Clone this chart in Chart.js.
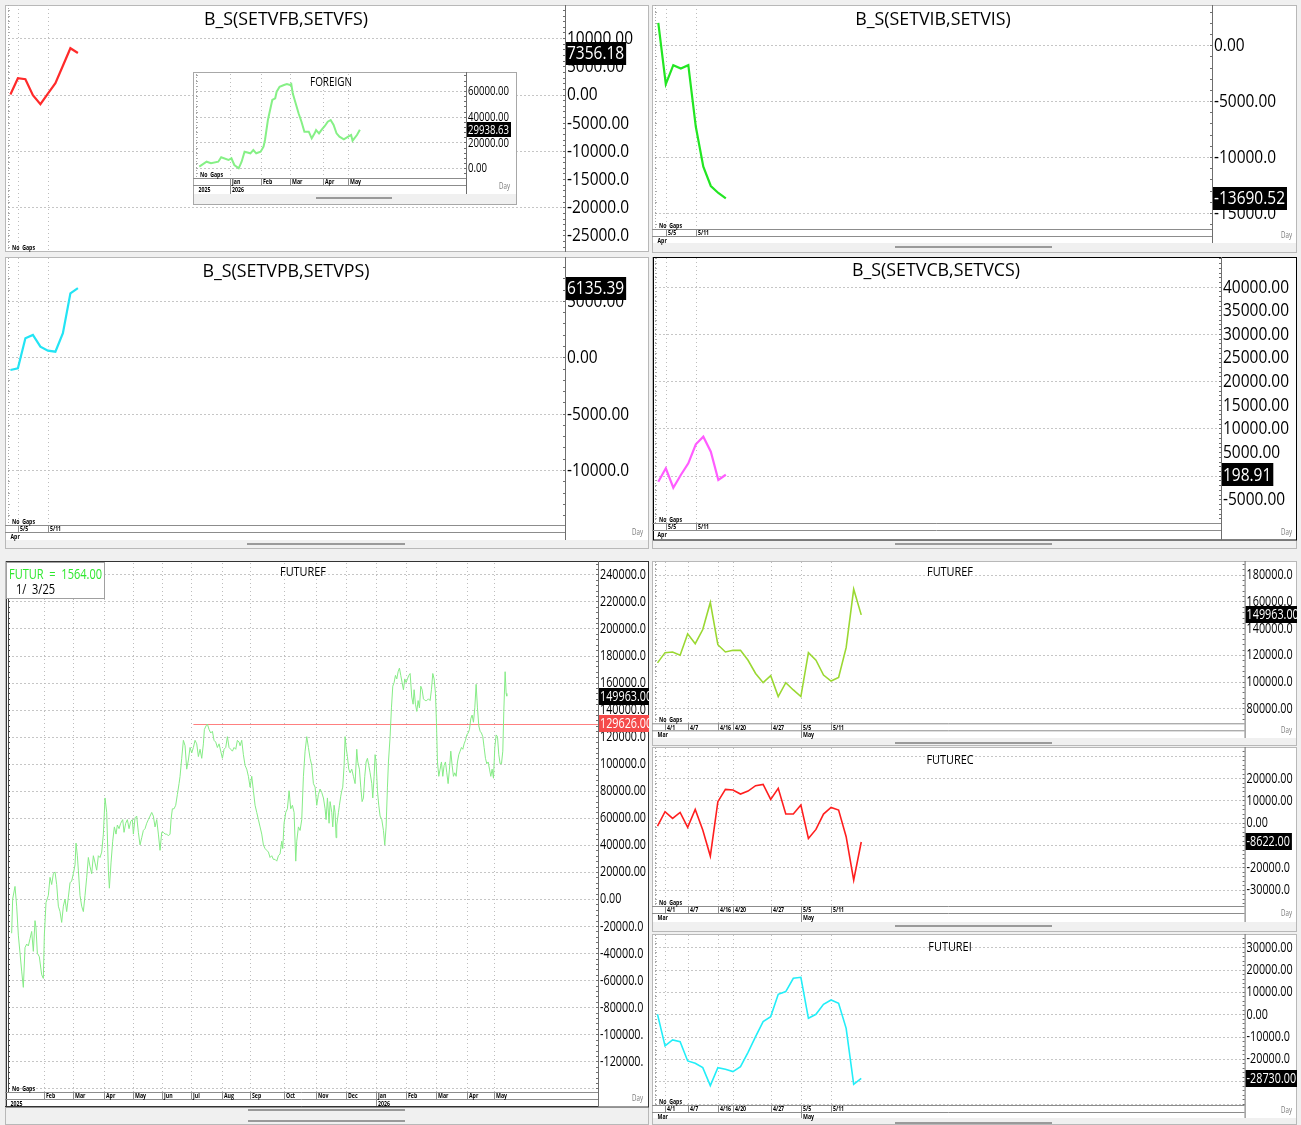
<!DOCTYPE html>
<html>
<head>
<meta charset="utf-8">
<script src="https://cdn.jsdelivr.net/npm/chart.js@4.4.1/dist/chart.umd.min.js"></script>
<style>
  html, body { margin: 0; padding: 0; background: #f0f0f0; }
  body { width: 1301px; height: 1125px; position: relative; overflow: hidden; }
  canvas { position: absolute; }
</style>
</head>
<body>
<script>
// ====================================
//  DATOS
// ====================================

// paneles B_S(...) : 4/30 .. 5/15
const shortDays = ['4/30', '5/5', '5/6', '5/7', '5/8', '5/11', '5/12', '5/13', '5/14', '5/15'];
const shortTicks = ['5/5', '5/11'];
const setvfValues = [0, 2890, 2713, -124, -1720, 142, 2004, 5106, 8209, 7356.18];
const setviValues = [1991, -3482, -1786, -2080, -1786, -7295, -10866, -12589, -13214, -13690.52];
const setvpValues = [-1127, -976, 1686, 1979, 941, 586, 497, 2130, 5679, 6135.39];
const setvcValues = [-1270, 1566, -2540, 148, 2624, 6646, 8254, 5079, -910, 198.91];

// paneles FUTURE* : 3/31 .. 5/15
const aprMayDays = ['3/31', '4/1', '4/2', '4/3', '4/7', '4/8', '4/9', '4/10', '4/16', '4/17', '4/20', '4/21',
  '4/22', '4/23', '4/24', '4/27', '4/28', '4/29', '4/30', '5/5', '5/6', '5/7', '5/8', '5/11', '5/12', '5/13', '5/14', '5/15'];
const aprMayTicks = ['4/1', '4/7', '4/16', '4/20', '4/27', '5/5', '5/11'];
const futurefDaily = [114070, 121730, 122220, 119750, 135800, 128390, 139010, 159260, 127650, 122220, 123460, 123460,
  116050, 106170, 99260, 104440, 88890, 99260, 93830, 88890, 121730, 116050, 104940, 100490, 103210, 125430, 169130, 149963];
const futurecDaily = [-1490, 4930, 1940, 4630, -2090, 5970, -3280, -14930, 9410, 14930, 14630, 12840, 14180, 16570,
  17170, 10450, 15380, 3880, 3880, 7910, -7020, -2990, 3880, 6870, 5670, -6270, -25680, -8622];
const futureiDaily = [0, -14180, -11500, -12240, -20900, -21950, -23890, -31950, -23890, -24630, -25680, -23440,
  -17020, -10000, -3280, -1040, 8960, 10150, 16120, 16570, -1790, 0, 4480, 6420, 4930, -6270, -31350, -28730];

// FOREIGN (inset) : [bar, value], Dec 2025 .. May 2026
const foreignSeries = [[0, 1240], [5, 5116], [8, 3876], [13, 5116], [15, 8527], [20, 6434], [22, 7752], [24, 2558],
  [27, 0], [29, 5116], [31, 12868], [35, 11628], [37, 14186], [39, 11628], [42, 12868], [44, 16744], [45, 21938],
  [47, 37442], [48, 42636], [50, 52946], [52, 54264], [53, 59380], [55, 63256], [58, 64574], [60, 65349], [62, 64574],
  [63, 65349], [64, 58140], [66, 50388], [68, 42636], [70, 36124], [72, 28372], [74, 28372], [75, 28372], [77, 23256],
  [79, 27132], [80, 29690], [82, 27132], [84, 30233], [86, 32791], [88, 36124], [90, 37442], [92, 33566], [94, 27132],
  [96, 24496], [99, 22481], [102, 24496], [104, 25814], [105, 21395], [108, 25814], [110, 29938.63]];
const foreignMonths = ['Jan', 'Feb', 'Mar', 'Apr', 'May'];
const foreignMonthAt = [21, 42, 62, 84.5, 102];

// FUTUREF (grande) : [bar, value], Jan 2025 .. May 2026
const futurefSeries = [[7, -25300], [7.6, 0], [9, 9300], [10, -5300], [11, -26700], [12, -40000], [13, -53300],
  [14, -65300], [15, -36000], [16, -33300], [17, -34700], [18, -29300], [19, -24000], [20, -38700], [21, -16000],
  [21.6, -21300], [22.4, -40000], [23.6, -42700], [25, -56000], [26, -58700], [26.6, -26700], [27.6, -2700],
  [29, 2700], [30, 16000], [31, 10700], [32, 18700], [33, 20000], [34, 10700], [35, -5300], [36, -9300],
  [37, -17300], [38, -5300], [39, 0], [40, -9300], [41, 1300], [42, 12000], [43, 13300], [44, 18700], [45, 25300],
  [45.6, 41300], [46.4, 32000], [47, 21300], [48, 2700], [49, -5300], [50, -9300], [51, 2700], [52, 16000],
  [53, 30700], [54, 24000], [55, 18700], [56, 32000], [57, 26700], [58, 21300], [59, 32000], [60, 30700],
  [61, 34700], [62, 48000], [63, 74700], [64, 64000], [65, 21300], [65.6, 8000], [66.6, 26700], [67.6, 42700],
  [68.6, 53300], [69.6, 48000], [70.4, 54700], [71.4, 52000], [72.4, 56000], [73.6, 58700], [74.4, 49300],
  [75.4, 56000], [76.4, 58700], [77.4, 52000], [78.4, 57300], [79.4, 58700], [80, 48000], [81, 60000], [82, 61300],
  [83, 49300], [84, 40000], [85, 45300], [86, 50700], [87, 52000], [88, 56000], [89, 58700], [90, 61300],
  [91, 64000], [92, 61300], [93, 53300], [94, 58700], [95, 48000], [96, 36000], [97, 49300], [98, 49300],
  [99, 48000], [100, 48000], [101, 46700], [102, 48000], [102.6, 58700], [103.4, 66700], [104.4, 66700],
  [105.4, 69300], [106.4, 77300], [107.4, 85300], [108, 90700], [109, 104000], [110, 117300], [111, 113300],
  [112, 96000], [113, 102700], [114, 112000], [115, 108000], [116, 112000], [117, 117300], [118, 114700],
  [119, 105300], [120, 110700], [121, 104000], [122, 114700], [122.6, 125300], [123.6, 128000], [124.4, 129300],
  [125.4, 125300], [126.4, 122700], [127.4, 124000], [128.4, 117300], [129.4, 116000], [130.4, 112000],
  [131.4, 114700], [132.4, 109300], [133.4, 104000], [134.4, 110700], [135.4, 112000], [136.4, 120000],
  [137.4, 112000], [138.4, 110700], [139.4, 109300], [140.4, 112000], [141.4, 110700], [142.4, 117300],
  [143.4, 116000], [144, 113300], [145, 117300], [146, 106700], [147, 98700], [148, 96000], [149, 90700],
  [150, 82700], [151, 90700], [152, 80000], [153, 69300], [154, 64000], [155, 58700], [156, 53300], [157, 48000],
  [158, 40000], [159, 37300], [160, 36000], [161, 34700], [162, 30700], [163, 32000], [164, 29300], [165, 29300],
  [166, 28000], [167, 32000], [168, 33300], [169, 42700], [169.6, 37300], [170.4, 56000], [171.4, 64000],
  [172.4, 66700], [173.4, 80000], [174.4, 66700], [175.4, 69300], [176.4, 64000], [177.4, 28000], [178, 42700],
  [179, 53300], [180, 50700], [181, 58700], [182, 90700], [183, 109300], [184, 120000], [185, 112000],
  [186, 104000], [187, 98700], [188, 85300], [189, 82700], [190, 69300], [191, 77300], [192, 81300],
  [193, 78700], [194, 74700], [195, 66700], [195.6, 58700], [196.4, 74700], [197.4, 56000], [198, 72000],
  [199, 64000], [199.6, 53300], [200.4, 69300], [201, 64000], [201.6, 45300], [202, 54700], [203, 64000],
  [203.6, 69300], [204.4, 76000], [205, 80000], [205.6, 82700], [206.4, 98700], [207, 120000], [207.6, 112000],
  [208.4, 105300], [209.2, 96000], [210, 93300], [211, 96000], [212, 90700], [213, 85300], [214, 110700],
  [214.6, 101300], [215.6, 96000], [216.4, 82700], [217.2, 72000], [218, 74700], [218.8, 90700], [219.6, 101300],
  [220.4, 104000], [221.2, 98700], [222, 93300], [223, 85300], [223.6, 74700], [224.4, 90700], [225, 106700],
  [225.6, 101300], [226.4, 80000], [227.2, 69300], [228, 61300], [229, 58700], [230, 50700], [230.8, 40000],
  [231.6, 53300], [232.4, 82700], [233, 101300], [234, 120000], [234.8, 141300], [235.6, 157300], [236.4, 160000],
  [237.2, 165300], [238, 162700], [238.8, 168000], [239.6, 170700], [240.4, 165300], [241.2, 160000],
  [242, 154700], [242.8, 162700], [243.6, 160000], [244.4, 162700], [245.2, 165300], [246, 166700], [247, 149300],
  [247.8, 144000], [248.4, 154700], [249.2, 144000], [250, 138700], [250.8, 146700], [251.6, 141300],
  [252.4, 157300], [253.2, 154700], [254, 148000], [255, 146700], [256, 146700], [257, 148000], [258, 146700],
  [258.8, 154700], [259.6, 166700], [260.4, 162700], [261.2, 152000], [261.8, 130700], [262.4, 101300],
  [263.2, 90700], [264, 96000], [264.8, 101300], [265.6, 90700], [266.4, 98700], [267.2, 101300], [268, 93300],
  [268.8, 85300], [269.6, 96000], [270.4, 109300], [271.2, 98700], [272, 90700], [272.8, 93300], [273.6, 90700],
  [274.4, 101300], [275.2, 106700], [276, 109300], [276.8, 112000], [277.6, 110700], [278.4, 114700],
  [279.2, 117300], [280, 121300], [280.8, 122700], [281.6, 125300], [282.4, 133300], [283.2, 136000],
  [284, 130700], [284.8, 141300], [285.6, 158700], [286.4, 141300], [287.2, 128000], [288, 124000],
  [288.8, 122700], [289.6, 120000], [290.4, 112000], [291.2, 104000], [292, 100000], [292.8, 101300],
  [293.6, 96000], [294.4, 90700], [295.2, 96000], [296, 89300], [296.8, 112000], [297.6, 121300], [298.4, 120000],
  [299.2, 106700], [300, 100000], [300.8, 100000], [301.6, 109300], [302.2, 138700], [303, 168000],
  [303.6, 152000], [304, 149963]];
const futurefMonths = ['Feb', 'Mar', 'Apr', 'May', 'Jun', 'Jul', 'Aug', 'Sep', 'Oct', 'Nov', 'Dec', 'Jan', 'Feb', 'Mar', 'Apr', 'May'];
const futurefMonthAt = [26.6, 44, 62.6, 80, 97.4, 114.6, 133, 150, 170.4, 189.4, 207.4, 225.4, 243.4, 261.4, 280, 296.6];
const futurefRefValue = 129626;
const futurefRefFrom = 116;
const futurLegend = ['FUTUR  =  1564.00', '1/  3/25'];

// ====================================
//  FUENTES (texto alto y estrecho, como el original)
// ====================================
const FAMILY = '"Open Sans", "DejaVu Sans", sans-serif';
const measureCtx = document.createElement('canvas').getContext('2d');

// estilo de texto: tamano + factor horizontal para alcanzar un ancho
function textStyle(sample, width, size, bold) {
  measureCtx.font = (bold ? 'bold ' : '') + size + 'px ' + FAMILY;
  const sx = Math.min(1.1, width / measureCtx.measureText(sample).width);
  return { font: (bold ? 'bold ' : '') + size + 'px ' + FAMILY, sx: sx, size: size };
}

const TOP_AXIS = textStyle('40000.00', 66, 19);
const LOW_AXIS = textStyle('240000.0', 46, 14);
const INSET_AXIS = textStyle('60000.00', 41, 12.5);
const TOP_TITLE = textStyle('B_S(SETVFB,SETVFS)', 164, 19);
const LOW_TITLE = textStyle('FUTUREF', 46, 13.5);
const INSET_TITLE = textStyle('FOREIGN', 42, 12);
const LEGEND = textStyle(futurLegend[0], 93, 15);
const TINY = textStyle('No  Gaps', 23, 7.5, true);
const DAY = textStyle('Day', 11, 9);

function drawText(ctx, st, text, x, y, align) {
  ctx.save();
  ctx.font = st.font;
  ctx.textBaseline = 'middle';
  ctx.textAlign = align || 'left';
  ctx.translate(x, y);
  ctx.scale(st.sx, 1);
  ctx.fillText(text, 0, 0);
  ctx.restore();
}

function textWidth(st, text) {
  measureCtx.font = st.font;
  return measureCtx.measureText(text).width * st.sx;
}

// ====================================
//  UTILIDADES
// ====================================
function fmtTick(v) {
  return Number(v).toFixed(2).slice(0, 8);
}

function line(ctx, x1, y1, x2, y2) {
  ctx.beginPath();
  ctx.moveTo(x1, y1);
  ctx.lineTo(x2, y2);
  ctx.stroke();
}

function dailyPoints(values) {
  return values.map((v, i) => ({ x: i, y: v }));
}

function pairPoints(series) {
  return series.map(p => ({ x: p[0], y: p[1] }));
}

function dayTicks(days, labels) {
  return labels.map(l => ({ at: days.indexOf(l), label: l }));
}

// ====================================
//  PANEL GENERICO
// ====================================
function makePanel(p) {
  const [bx, by, bx2, by2] = p.box;
  const w = bx2 - bx, h = by2 - by;
  const cv = document.createElement('canvas');
  cv.width = w; cv.height = h;
  cv.style.left = bx + 'px'; cv.style.top = by + 'px';
  cv.style.width = w + 'px'; cv.style.height = h + 'px';
  cv.style.zIndex = p.z || 1;
  document.body.appendChild(cv);

  const L = p.plot[0] - bx, T = p.plot[1] - by, R = p.plot[2] - bx, B = p.plot[3] - by;
  const WB = p.white - by;
  const lastValue = p.points[p.points.length - 1].y;

  const decor = {
    id: 'decor',
    beforeDraw(chart) {
      const ctx = chart.ctx;
      ctx.save();
      ctx.fillStyle = '#f0f0f0';
      ctx.fillRect(0, 0, w, h);
      ctx.fillStyle = '#ffffff';
      ctx.fillRect(0, 0, w, WB);
      ctx.strokeStyle = p.border || '#b8b8b8';
      ctx.lineWidth = 1;
      ctx.strokeRect(0.5, 0.5, w - 1, h - 1);
      if (p.frame) {
        ctx.strokeStyle = p.frame;
        ctx.strokeRect(1.5, 0.5, w - 2, WB - 0.5);
      }
      ctx.restore();
    },
    beforeDatasetsDraw(chart) {
      const ctx = chart.ctx, xs = chart.scales.x, ys = chart.scales.y;
      ctx.save();
      ctx.lineWidth = 1;

      // lineas horizontales
      ctx.strokeStyle = '#c6c6c6';
      ctx.setLineDash([2, 2]);
      const g0 = Math.ceil(ys.min / p.gridStep) * p.gridStep;
      for (let v = g0; v <= ys.max; v += p.gridStep) {
        const y = Math.round(ys.getPixelForValue(v)) + 0.5;
        line(ctx, L, y, R, y);
      }
      // lineas verticales
      ctx.setLineDash([1, 3]);
      ctx.strokeStyle = '#bdbdbd';
      (p.strip ? p.strip.row1 : p.vgrid).forEach(t => {
        const x = Math.round(xs.getPixelForValue(t.at)) + 0.5;
        line(ctx, x, T, x, B);
      });

      // regla izquierda
      ctx.strokeStyle = p.leftRuler || '#a8a8a8';
      ctx.setLineDash(p.leftRuler ? [] : [1, 2]);
      const rulerTop = p.legend ? 38 : T;
      line(ctx, L + 0.5, rulerTop, L + 0.5, B);
      ctx.setLineDash([]);
      const minor = p.step / 5;
      const m0 = Math.ceil(ys.min / minor) * minor;
      for (let v = m0; v <= ys.max; v += minor) {
        const y = Math.round(ys.getPixelForValue(v)) + 0.5;
        if (y > rulerTop) line(ctx, L, y, L + 2, y);
      }

      // eje derecho
      ctx.strokeStyle = '#6e6e6e';
      line(ctx, R + 0.5, 0, R + 0.5, WB);
      for (let v = m0; v <= ys.max; v += minor) {
        const y = Math.round(ys.getPixelForValue(v)) + 0.5;
        line(ctx, R - 2, y, R, y);
      }

      // linea de referencia (FUTUREF)
      if (p.refLine) {
        ctx.strokeStyle = '#ff8080';
        const y = Math.round(ys.getPixelForValue(p.refLine.value)) + 0.5;
        line(ctx, xs.getPixelForValue(p.refLine.from), y, R, y);
      }

      // franja de fechas
      ctx.fillStyle = '#000';
      if (p.strip) {
        ctx.strokeStyle = '#8c8c8c';
        line(ctx, 0, B + 0.5, R, B + 0.5);
        line(ctx, 0, B + 7.5, R, B + 7.5);
        p.strip.row1.forEach(t => {
          const x = Math.round(xs.getPixelForValue(t.at)) + 0.5;
          line(ctx, x, B, x, B + 7);
          drawText(ctx, TINY, t.label, x + 1.5, B + 4.3);
        });
        p.strip.row2.forEach(t => {
          let x = L + 1;
          if (t.at !== null) {
            x = Math.round(xs.getPixelForValue(t.at)) + 0.5;
            line(ctx, x, B + 7, x, WB);
          }
          drawText(ctx, TINY, t.label, x + 1.5, B + 11.5);
        });
        if (p.stripBottom) {
          ctx.strokeStyle = '#333';
          line(ctx, 0, WB - 0.5, R, WB - 0.5);
        }
      }
      drawText(ctx, TINY, 'No  Gaps', L + 4, B - 3.5);

      // titulo
      drawText(ctx, p.titleStyle, p.title.text, p.title.x - bx, p.title.y - by, 'center');
      ctx.restore();
    },
    afterDatasetsDraw(chart) {
      const ctx = chart.ctx, ys = chart.scales.y;
      const st = p.axisStyle;
      ctx.save();
      ctx.fillStyle = '#000';

      // etiquetas del eje (ticks de la escala)
      ys.ticks.forEach(t => {
        drawText(ctx, st, fmtTick(t.value), R + 2, ys.getPixelForValue(t.value) + 0.5);
      });

      // cajas de valor actual
      const boxH = Math.round(st.size * 1.2);
      const boxes = [{ v: lastValue, bg: '#000' }];
      if (p.refLine) boxes.push({ v: p.refLine.value, bg: '#f54a4a' });
      boxes.forEach(b => {
        const y = ys.getPixelForValue(b.v);
        const txt = b.v.toFixed(2);
        const tw = textWidth(st, txt);
        ctx.fillStyle = b.bg;
        ctx.fillRect(R + 1, Math.round(y - boxH / 2), tw + 3, boxH);
        ctx.fillStyle = '#fff';
        drawText(ctx, st, txt, R + 2, y + 0.5);
      });

      // leyenda FUTUR
      if (p.legend) {
        ctx.fillStyle = '#fff';
        ctx.fillRect(1.5, 1.5, 98, 36);
        ctx.strokeStyle = '#a0a0a0';
        ctx.strokeRect(1.5, 1.5, 98, 36);
        ctx.fillStyle = '#2ee82e';
        drawText(ctx, LEGEND, p.legend[0], 4, 13.5);
        ctx.fillStyle = '#000';
        drawText(ctx, LEGEND, p.legend[1], 11, 29);
      }

      // "Day"
      if (p.day) {
        ctx.fillStyle = '#777';
        drawText(ctx, DAY, 'Day', p.day[0] - bx, p.day[1] - by);
      }
      // barras de desplazamiento
      ctx.strokeStyle = '#9a9a9a';
      ctx.lineWidth = 2;
      (p.scroll || []).forEach(s => line(ctx, s[0] - bx, s[2] - by, s[1] - bx, s[2] - by));
      ctx.restore();
    }
  };

  new Chart(cv, {
    type: 'line',
    data: {
      datasets: [{
        data: p.points,
        borderColor: p.color,
        borderWidth: p.width,
        pointRadius: 0,
        tension: 0,
        fill: false
      }]
    },
    options: {
      responsive: false,
      animation: false,
      events: [],
      layout: { padding: { left: L, top: T, right: 0, bottom: h - B } },
      plugins: { legend: { display: false }, tooltip: { enabled: false } },
      scales: {
        x: { type: 'linear', display: false, min: p.xRange[0], max: p.xRange[1] },
        y: {
          position: 'right',
          min: p.yRange[0],
          max: p.yRange[1],
          afterBuildTicks(s) {
            // sin etiquetas pegadas al borde superior / inferior
            const edge = 8.5 * (s.max - s.min) / (B - T);
            const ticks = [];
            for (let v = Math.ceil(s.min / p.step) * p.step; v <= s.max; v += p.step) {
              if (v > s.min + edge && v < s.max - edge) ticks.push({ value: v });
            }
            s.ticks = ticks;
          },
          afterFit(s) { s.width = w - R; s.paddingTop = 0; s.paddingBottom = 0; },
          grid: { display: false, drawTicks: false },
          border: { display: false },
          ticks: { display: false, autoSkip: false }
        }
      }
    },
    plugins: [decor]
  });
}

// ====================================
//  PANELES
// ====================================
const shortStrip = { row1: dayTicks(shortDays, shortTicks), row2: [{ at: null, label: 'Apr' }] };
const aprMayStrip = {
  row1: dayTicks(aprMayDays, aprMayTicks),
  row2: [{ at: null, label: 'Mar' }, { at: aprMayDays.indexOf('5/5'), label: 'May' }]
};

makePanel({
  box: [5, 5, 649, 252], white: 252, plot: [8, 5, 565, 251],
  title: { text: 'B_S(SETVFB,SETVFS)', x: 286, y: 20 }, titleStyle: TOP_TITLE,
  xRange: [-0.32, 73.95], yRange: [-27750, 15870], step: 5000, gridStep: 10000, axisStyle: TOP_AXIS,
  vgrid: dayTicks(shortDays, shortTicks),
  points: dailyPoints(setvfValues), color: '#ff2a2a', width: 2.2
});

makePanel({
  box: [652, 5, 1297, 253], white: 243, plot: [655, 5, 1212, 229],
  title: { text: 'B_S(SETVIB,SETVIS)', x: 933, y: 20 }, titleStyle: TOP_TITLE,
  xRange: [-0.44, 73.8], yRange: [-16430, 3590], step: 5000, gridStep: 5000, axisStyle: TOP_AXIS,
  strip: shortStrip, day: [1281, 235], scroll: [[895, 1052, 247]],
  points: dailyPoints(setviValues), color: '#22e622', width: 2.2
});

makePanel({
  box: [5, 257, 649, 549], white: 540, plot: [8, 258, 565, 525],
  title: { text: 'B_S(SETVPB,SETVPS)', x: 286, y: 272 }, titleStyle: TOP_TITLE,
  xRange: [-0.32, 73.95], yRange: [-14880, 8810], step: 5000, gridStep: 5000, axisStyle: TOP_AXIS,
  strip: shortStrip, day: [632, 532], scroll: [[247, 405, 544]],
  points: dailyPoints(setvpValues), color: '#22e4f4', width: 2.2
});

makePanel({
  box: [652, 257, 1297, 549], white: 540, plot: [655, 258, 1221, 523], frame: '#000',
  title: { text: 'B_S(SETVCB,SETVCS)', x: 936, y: 271 }, titleStyle: TOP_TITLE,
  xRange: [-0.44, 75.0], yRange: [-10010, 46070], step: 5000, gridStep: 10000, axisStyle: TOP_AXIS,
  strip: shortStrip, day: [1281, 532], scroll: [[895, 1052, 544]],
  points: dailyPoints(setvcValues), color: '#ff5cff', width: 2.2
});

makePanel({
  box: [5, 561, 649, 1125], white: 1107, plot: [8, 563, 598, 1092], frame: '#333', stripBottom: true,
  title: { text: 'FUTUREF', x: 303, y: 572 }, titleStyle: LOW_TITLE,
  xRange: [4.8, 358.7], yRange: [-142660, 248390], step: 20000, gridStep: 20000, axisStyle: LOW_AXIS,
  strip: {
    row1: futurefMonths.map((m, i) => ({ at: futurefMonthAt[i], label: m })),
    row2: [{ at: null, label: '2025' }, { at: futurefMonthAt[11], label: '2026' }]
  },
  leftRuler: '#444', legend: futurLegend,
  refLine: { value: futurefRefValue, from: futurefRefFrom },
  day: [632, 1098], scroll: [[248, 405, 1110], [248, 405, 1121]],
  points: pairPoints(futurefSeries), color: '#86ec86', width: 1
});

makePanel({
  box: [652, 561, 1297, 746], white: 738, plot: [655, 562, 1244.6, 723.3],
  title: { text: 'FUTUREF', x: 950, y: 572 }, titleStyle: LOW_TITLE,
  xRange: [-0.33, 77.8], yRange: [68900, 189500], step: 20000, gridStep: 20000, axisStyle: LOW_AXIS,
  strip: aprMayStrip, day: [1281, 730], scroll: [[895, 1052, 743]],
  points: dailyPoints(futurefDaily), color: '#9ad832', width: 1.6
});

makePanel({
  box: [652, 747, 1297, 932], white: 922, plot: [655, 748, 1244.6, 906],
  title: { text: 'FUTUREC', x: 950, y: 760 }, titleStyle: LOW_TITLE,
  xRange: [-0.33, 77.8], yRange: [-37280, 33450], step: 10000, gridStep: 10000, axisStyle: LOW_AXIS,
  strip: aprMayStrip, day: [1281, 913], scroll: [[895, 1052, 926]],
  points: dailyPoints(futurecDaily), color: '#ff1e1e', width: 1.6
});

makePanel({
  box: [652, 934, 1297, 1125], white: 1118, plot: [655, 935, 1244.6, 1105],
  title: { text: 'FUTUREI', x: 950, y: 947 }, titleStyle: LOW_TITLE,
  xRange: [-0.33, 77.8], yRange: [-40620, 35510], step: 10000, gridStep: 10000, axisStyle: LOW_AXIS,
  strip: aprMayStrip, day: [1281, 1110], scroll: [[895, 1052, 1123]],
  points: dailyPoints(futureiDaily), color: '#22eef8', width: 1.6
});

// inset FOREIGN sobre el primer panel
makePanel({
  box: [193, 72, 517, 205], white: 194, plot: [196, 74, 466, 178], border: '#a8a8a8', z: 3,
  title: { text: 'FOREIGN', x: 331, y: 83 }, titleStyle: INSET_TITLE,
  xRange: [-2.26, 182.7], yRange: [-7520, 73100], step: 20000, gridStep: 20000, axisStyle: INSET_AXIS,
  strip: {
    row1: foreignMonths.map((m, i) => ({ at: foreignMonthAt[i], label: m })),
    row2: [{ at: null, label: '2025' }, { at: foreignMonthAt[0], label: '2026' }]
  },
  day: [499, 186], scroll: [[316, 392, 198]],
  points: pairPoints(foreignSeries), color: '#86f086', width: 2
});
</script>
</body>
</html>
